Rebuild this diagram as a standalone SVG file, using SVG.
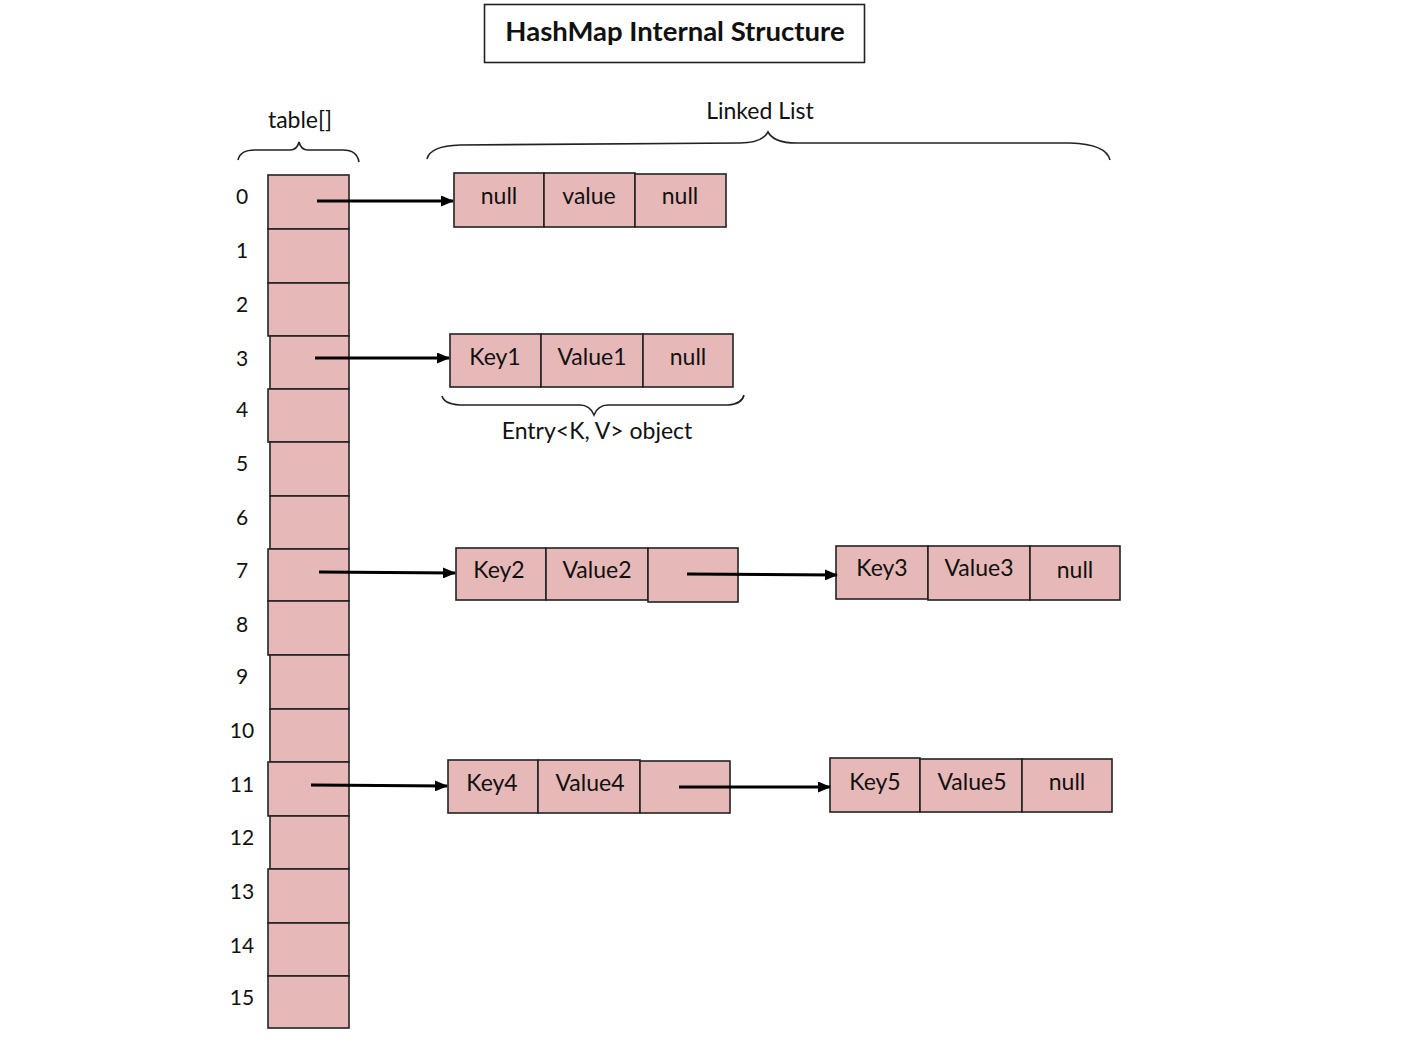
<svg xmlns="http://www.w3.org/2000/svg" width="1428" height="1039" viewBox="0 0 1428 1039">
<style>
.c{fill:#e6b8b7;stroke:#222;stroke-width:1.6}
.t{font-family:Lato,"Open Sans","Liberation Sans",sans-serif;font-size:23px;fill:#111;text-anchor:middle}
.i{font-family:Lato,"Open Sans","Liberation Sans",sans-serif;font-size:21px;fill:#111;text-anchor:middle}
.b{fill:none;stroke:#222;stroke-width:1.6}
.a{stroke:#000;stroke-width:3;fill:none;marker-end:url(#ah)}
</style>
<defs>
<marker id="ah" markerWidth="13" markerHeight="11" refX="12" refY="5.5" orient="auto" markerUnits="userSpaceOnUse">
<path d="M0,0 L13,5.5 L0,11 Z" fill="#000"/>
</marker>
</defs>
<rect width="1428" height="1039" fill="#fff"/>
<g id="title">
<rect x="484.5" y="4.5" width="380" height="58" fill="#fff" stroke="#222" stroke-width="1.6"/>
<text x="675" y="41" font-family="Lato,'Open Sans','Liberation Sans',sans-serif" font-size="27.5" font-weight="bold" text-anchor="middle" fill="#111">HashMap Internal Structure</text>
</g>
<g id="table-label">
<text class="t" x="300" y="128">table[]</text>
<path class="b" d="M238,160 Q240,150 255,150 L290,150 Q297,150 299,142 Q301,150 308,150 L343,150 Q357,150 359,162"/>
</g>
<g id="linked-list-label">
<text class="t" x="760" y="119">Linked List</text>
<path class="b" d="M427,159 Q430,146 460,145 L740,143 Q762,143 768,132 Q774,143 796,143 L1070,143 Q1106,144 1110,160"/>
</g>
<g id="table">
<rect class="c" x="268" y="175" width="81" height="54"/>
<rect class="c" x="268" y="229" width="81" height="54"/>
<rect class="c" x="268" y="283" width="81" height="53"/>
<rect class="c" x="270" y="336" width="79" height="53"/>
<rect class="c" x="268" y="389" width="81" height="53"/>
<rect class="c" x="270" y="442" width="79" height="54"/>
<rect class="c" x="270" y="496" width="79" height="53"/>
<rect class="c" x="268" y="549" width="81" height="52"/>
<rect class="c" x="268" y="601" width="81" height="54"/>
<rect class="c" x="270" y="655" width="79" height="54"/>
<rect class="c" x="270" y="709" width="79" height="53"/>
<rect class="c" x="268" y="762" width="81" height="54"/>
<rect class="c" x="270" y="816" width="79" height="53"/>
<rect class="c" x="268" y="869" width="81" height="54"/>
<rect class="c" x="268" y="923" width="81" height="53"/>
<rect class="c" x="268" y="976" width="81" height="52"/>
<text class="i" x="242" y="204">0</text>
<text class="i" x="242" y="258">1</text>
<text class="i" x="242" y="312">2</text>
<text class="i" x="242" y="366">3</text>
<text class="i" x="242" y="417">4</text>
<text class="i" x="242" y="471">5</text>
<text class="i" x="242" y="525">6</text>
<text class="i" x="242" y="578">7</text>
<text class="i" x="242" y="632">8</text>
<text class="i" x="242" y="684">9</text>
<text class="i" x="242" y="738">10</text>
<text class="i" x="242" y="792">11</text>
<text class="i" x="242" y="845">12</text>
<text class="i" x="242" y="899">13</text>
<text class="i" x="242" y="953">14</text>
<text class="i" x="242" y="1005">15</text>
</g>
<g id="entry0">
<rect class="c" x="454" y="173" width="90" height="54"/>
<rect class="c" x="544" y="173" width="91" height="54"/>
<rect class="c" x="635" y="174" width="91" height="53"/>
<text class="t" x="499" y="204">null</text>
<text class="t" x="589" y="204">value</text>
<text class="t" x="680" y="204">null</text>
</g>
<g id="entry1">
<rect class="c" x="450" y="334" width="91" height="53"/>
<rect class="c" x="541" y="334" width="102" height="53"/>
<rect class="c" x="643" y="334" width="90" height="53"/>
<text class="t" x="495" y="365">Key1</text>
<text class="t" x="592" y="365">Value1</text>
<text class="t" x="688" y="365">null</text>
<path class="b" d="M442,396 Q444,404 460,405 L580,405 Q590,405 594,415 Q598,405 608,405 L728,405 Q742,404 744,395"/>
<text class="t" x="597" y="439">Entry&lt;K, V&gt; object</text>
</g>
<g id="entry2">
<rect class="c" x="456" y="548" width="90" height="52"/>
<rect class="c" x="546" y="548" width="102" height="52"/>
<rect class="c" x="648" y="548" width="90" height="54"/>
<text class="t" x="499" y="578">Key2</text>
<text class="t" x="597" y="578">Value2</text>
</g>
<g id="entry3">
<rect class="c" x="836" y="546" width="92" height="53"/>
<rect class="c" x="928" y="546" width="102" height="54"/>
<rect class="c" x="1030" y="546" width="90" height="54"/>
<text class="t" x="882" y="576">Key3</text>
<text class="t" x="979" y="576">Value3</text>
<text class="t" x="1075" y="578">null</text>
</g>
<g id="entry4">
<rect class="c" x="448" y="760" width="90" height="53"/>
<rect class="c" x="538" y="760" width="102" height="53"/>
<rect class="c" x="640" y="761" width="90" height="52"/>
<text class="t" x="492" y="791">Key4</text>
<text class="t" x="590" y="791">Value4</text>
</g>
<g id="entry5">
<rect class="c" x="830" y="758" width="90" height="54"/>
<rect class="c" x="920" y="759" width="102" height="53"/>
<rect class="c" x="1022" y="759" width="90" height="53"/>
<text class="t" x="875" y="790">Key5</text>
<text class="t" x="972" y="790">Value5</text>
<text class="t" x="1067" y="790">null</text>
</g>
<g id="connectors">
<line class="a" x1="317" y1="201" x2="453" y2="201"/>
<line class="a" x1="315" y1="358" x2="449" y2="358"/>
<line class="a" x1="319" y1="572" x2="455" y2="573"/>
<line class="a" x1="687" y1="574" x2="837" y2="575"/>
<line class="a" x1="311" y1="785" x2="447" y2="786"/>
<line class="a" x1="679" y1="787" x2="830" y2="787"/>
</g>
</svg>
